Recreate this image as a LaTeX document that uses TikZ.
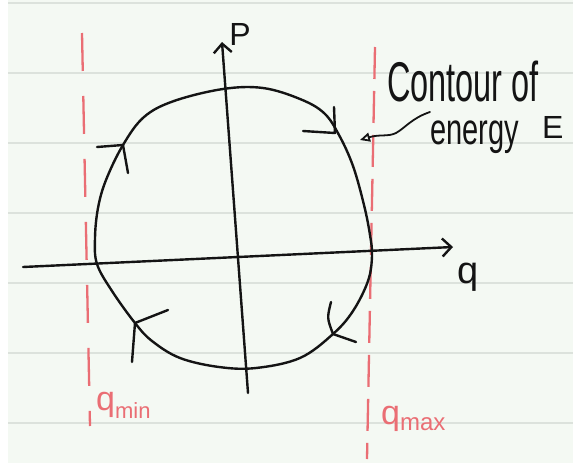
\documentclass[tikz,border=0pt]{standalone}
\usepackage{fontspec}
\setmainfont{Liberation Sans}
\usetikzlibrary{arrows.meta}
\definecolor{paper}{HTML}{F4F9F3}
\definecolor{ruleline}{HTML}{DCE2DC}
\definecolor{pen}{HTML}{141414}
\definecolor{redpen}{HTML}{EA6E74}
\begin{document}
\begin{tikzpicture}[x=1pt,y=-1pt,
  ink/.style={draw=pen,line width=2.4pt,line cap=round,line join=round},
  axis/.style={ink,-{Straight Barb[length=9pt,width=18pt,line width=2.4pt]}},
  redline/.style={draw=redpen,line width=2.3pt},
  redlabel/.style={text=redpen,inner sep=0pt,anchor=base west,font=\fontsize{34}{34}\selectfont},
  blacklabel/.style={text=pen,inner sep=0pt}]
\useasboundingbox (0,0) rectangle (573,463);
\fill[white] (0,0) rectangle (573,463);
\fill[paper] (8,0) rectangle (573,463);
\foreach \yy in {3,73,143,213,283,353,423}
  \draw[ruleline,line width=2pt] (8,\yy) -- (573,\yy);
% red bounds
\coordinate (lminT) at (82,33);  \coordinate (lminB) at (90,426);
\coordinate (lmaxT) at (375,47); \coordinate (lmaxB) at (367,459);
\draw[redline,dash pattern=on 38pt off 25pt] (lminT) -- (lminB);
\draw[redline,dash pattern=on 32pt off 12pt] (lmaxT) -- (lmaxB);
% axes
\coordinate (qS) at (23,267); \coordinate (qE) at (453,247);
\coordinate (pS) at (248,393); \coordinate (pE) at (222,42);
\draw[axis] (qS) -- (qE);
\draw[axis] (pS) -- (pE);
% contour
\draw[ink] plot[smooth cycle,tension=0.6] coordinates {
 (97,264) (95,238) (98,208) (106,180) (123,145) (144,117) (174,101)
 (223,89) (263,88) (300,99) (324,113) (339,135) (353,166) (364,205)
 (370,235) (372,256) (368,281) (353,311) (333,334) (300,358) (256,368)
 (219,367) (180,358) (152,341) (135,323) (112,291)};
% direction marks
\draw[ink] (97,147) -- (123,145) -- (128,173);
\draw[ink] (303,131) -- (335,133) -- (334,107);
\draw[ink] (356,342) -- (333,334) .. controls (327,318) .. (331,302);
\draw[ink] (168,310) -- (135,323) -- (132,362);
% labels
\node[blacklabel,font=\fontsize{32}{32}\selectfont] (plab) at (240,34) {P};
\node[blacklabel,font=\fontsize{38}{38}\selectfont] (qlab) at (468,277) {q};
\node[blacklabel,anchor=base west,font=\fontsize{56}{56}\selectfont] (contour) at (387,101) {\scalebox{0.58}[1]{Contour of}};
\node[blacklabel,anchor=base west,font=\fontsize{44}{44}\selectfont] (energy) at (430,144) {\scalebox{0.66}[1]{energy}};
\node[blacklabel,anchor=base west,font=\fontsize{32}{32}\selectfont] (elab) at (542,138) {E};
\node[redlabel] (qmin) at (96,410) {q\raisebox{-8pt}{\fontsize{22}{22}\selectfont min}};
\node[redlabel] (qmax) at (381,424) {q\raisebox{-6pt}{\fontsize{24}{24}\selectfont max}};
% pointer to contour
\coordinate (wstart) at (430,112);
\coordinate (wtip) at (360,140);
\draw[ink,line width=1.8pt,-{Triangle[open,length=10pt,width=9pt,line width=1.8pt]}]
  (wstart) .. controls (412,118) and (405,128) .. (396,133)
  .. controls (388,137) and (380,134) .. (wtip);
\end{tikzpicture}
\end{document}
